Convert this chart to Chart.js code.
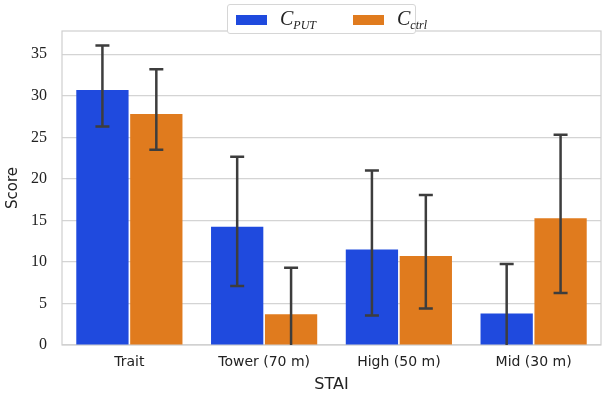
<!DOCTYPE html>
<html>
<head>
<meta charset="utf-8">
<script src="https://cdn.jsdelivr.net/npm/chart.js@4.4.0/dist/chart.umd.min.js"></script>
<style>
body { margin:0; background:#fff; }
#wrap { position:relative; width:602px; height:400px; }
#legend {
    position:absolute; left:227px; top:4px; width:189px; height:30px;
    background:#fff; border:1px solid #d6d6d6; border-radius:3px; box-sizing:border-box;
    font-family:"Liberation Serif", serif;
}
.patch { position:absolute; top:10px; width:31px; height:10px; }
.lab { position:absolute; top:2px; font-style:italic; font-size:20px; color:#222; white-space:nowrap; }
.lab sub { font-size:12px; vertical-align:-4px; }
</style>
</head>
<body>
<div id="wrap">
    <canvas id="chart" width="602" height="400"></canvas>
    <div id="legend"></div>
</div>
<script>
const categories = ["Trait", "Tower (70 m)", "High (50 m)", "Mid (30 m)"];

const putMeans = [30.7, 14.25, 11.5, 3.8];
const putLow   = [26.3, 7.1, 3.55, 0];
const putHigh  = [36.05, 22.65, 21.0, 9.75];

const ctrlMeans = [27.8, 3.7, 10.7, 15.25];
const ctrlLow   = [23.5, 0, 4.4, 6.25];
const ctrlHigh  = [33.2, 9.3, 18.05, 25.3];

const yTicks = [0, 5, 10, 15, 20, 25, 30, 35];

const blue = "#1f4ade";
const orange = "#e07b1e";

// error bars + plot frame
const extras = {
    id: "extras",
    beforeDatasetsDraw(chart){
        const a = chart.chartArea, ctx = chart.ctx;
        ctx.save();
        ctx.strokeStyle = "#cfcfcf";
        ctx.lineWidth = 1.2;
        ctx.strokeRect(a.left, a.top, a.right - a.left, a.bottom - a.top);
        ctx.restore();
    },
    afterDatasetsDraw(chart){
        const ctx = chart.ctx, y = chart.scales.y;
        ctx.save();
        ctx.strokeStyle = "#3d3d3d";
        ctx.lineWidth = 2.5;
        chart.data.datasets.forEach((ds, di) => {
            const meta = chart.getDatasetMeta(di);
            meta.data.forEach((bar, i) => {
                const y1 = y.getPixelForValue(ds.errHigh[i]);
                const y2 = y.getPixelForValue(ds.errLow[i]);
                ctx.beginPath();
                ctx.moveTo(bar.x, y1); ctx.lineTo(bar.x, y2);
                ctx.moveTo(bar.x - 7, y1); ctx.lineTo(bar.x + 7, y1);
                if(ds.errLow[i] > 0){ ctx.moveTo(bar.x - 7, y2); ctx.lineTo(bar.x + 7, y2); }
                ctx.stroke();
            });
        });
        ctx.restore();
    }
};

const chart = new Chart(document.getElementById("chart"), {
    type: "bar",
    data: {
        labels: categories,
        datasets: [
            { label: "PUT", data: putMeans, errLow: putLow, errHigh: putHigh, backgroundColor: blue },
            { label: "ctrl", data: ctrlMeans, errLow: ctrlLow, errHigh: ctrlHigh, backgroundColor: orange }
        ]
    },
    options: {
        responsive: false,
        animation: false,
        devicePixelRatio: 1,
        layout: { padding: { top: 31, right: 1, left: 4, bottom: 0 } },
        datasets: { bar: { categoryPercentage: 0.8, barPercentage: 0.97 } },
        plugins: { legend: { display: false }, tooltip: { enabled: false } },
        scales: {
            x: {
                grid: { display: false, drawTicks: false },
                border: { display: false },
                ticks: { color: "#222", padding: 9, font: { family: "'DejaVu Sans', sans-serif", size: 14 } },
                title: { display: true, text: "STAI", color: "#222", padding: { top: 0, bottom: 6 },
                         font: { family: "'DejaVu Sans', sans-serif", size: 16 } },
                afterFit(s){ s.height = 55; }
            },
            y: {
                min: 0, max: 37.8,
                grid: { color: "#d4d4d4", lineWidth: 1.2, drawTicks: false },
                border: { display: false },
                afterBuildTicks(s){ s.ticks = yTicks.map(v => ({ value: v })); },
                ticks: { color: "#222", padding: 15, font: { family: "'Liberation Serif', 'DejaVu Serif', serif", size: 16 } },
                title: { display: true, text: "Score", color: "#222", padding: { top: 0, bottom: 2 },
                         font: { family: "'DejaVu Sans', sans-serif", size: 15 } },
                afterFit(s){ s.width = 58; }
            }
        }
    },
    plugins: [extras]
});

// legend from the datasets
const legend = document.getElementById("legend");
const pos = [[8, 52], [125, 169]];
chart.data.datasets.forEach((ds, i) => {
    const p = document.createElement("div");
    p.className = "patch";
    p.style.left = pos[i][0] + "px";
    p.style.background = ds.backgroundColor;
    legend.appendChild(p);
    const t = document.createElement("div");
    t.className = "lab";
    t.style.left = pos[i][1] + "px";
    t.innerHTML = "C<sub>" + ds.label + "</sub>";
    legend.appendChild(t);
});
</script>
</body>
</html>
